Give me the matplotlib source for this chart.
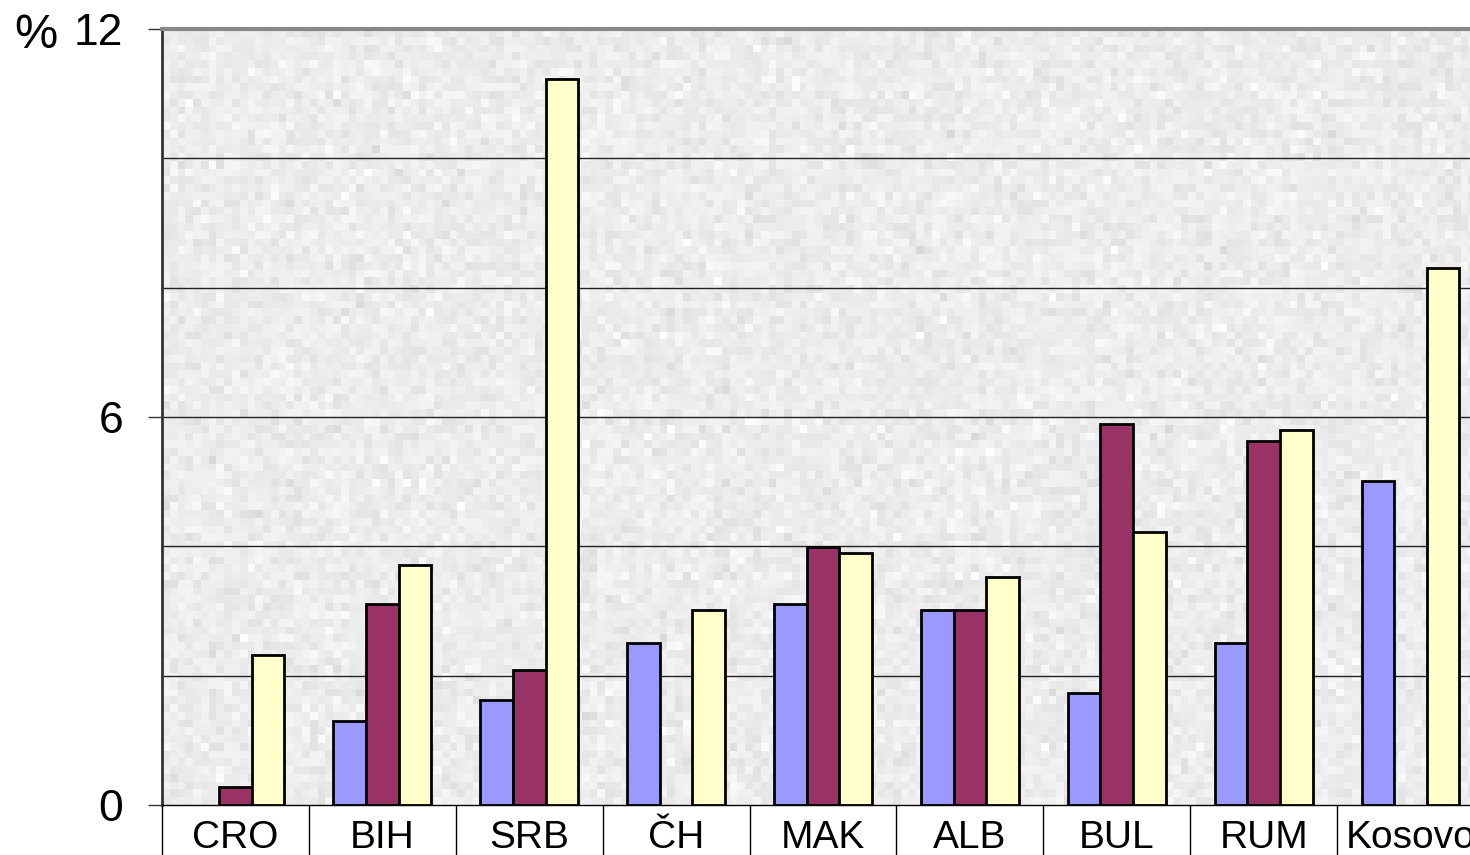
import numpy as np
import matplotlib
matplotlib.use('Agg')
import matplotlib.pyplot as plt
from matplotlib.ticker import FixedLocator, NullFormatter

plt.rcParams['font.family'] = ['Liberation Sans', 'DejaVu Sans']

countries = ['CRO', 'BIH', 'SRB', 'ČH', 'MAK', 'ALB', 'BUL', 'RUM', 'Kosovo']
blue = [np.nan, 1.30, 1.62, 2.50, 3.11, 3.02, 1.73, 2.50, 5.01]
purple = [0.28, 3.11, 2.09, np.nan, 3.99, 3.02, 5.89, 5.63, np.nan]
yellow = [2.32, 3.71, 11.23, 3.02, 3.90, 3.53, 4.22, 5.80, 8.30]

fig = plt.figure(figsize=(14.7, 8.55), dpi=100)
ax = fig.add_axes([162/1470, 1-805/855, 1322/1470, 776/855])

# granite-ish background
rng = np.random.default_rng(7)
tex = rng.normal(0.925, 0.022, (100, 170))
tex = np.clip(tex, 0.82, 1.0)
ax.imshow(tex, cmap='gray', vmin=0, vmax=1, extent=(-0.5, 8.5, 0, 12),
          aspect='auto', interpolation='nearest', zorder=0)

x = np.arange(len(countries))
w = 0.222
ax.bar(x - w, blue, w, color='#9999ff', edgecolor='black', linewidth=2, zorder=3)
ax.bar(x, purple, w, color='#993366', edgecolor='black', linewidth=2, zorder=3)
ax.bar(x + w, yellow, w, color='#ffffcc', edgecolor='black', linewidth=2, zorder=3)

ax.set_xlim(-0.5, 8.5)
ax.set_ylim(0, 12)

for g in [2, 4, 6, 8, 10]:
    ax.axhline(g, color='#222222', linewidth=1, zorder=1)

ax.set_yticks([0, 6, 12])
ax.set_yticklabels(['0', '6', '12'], fontsize=32)
ax.tick_params(axis='y', length=10, width=1, pad=18, color='#333333')

# category separators below the axis, labels in between
ax.xaxis.set_major_locator(FixedLocator(np.arange(-0.5, 9.0, 1)))
ax.xaxis.set_major_formatter(NullFormatter())
ax.xaxis.set_minor_locator(FixedLocator(x))
ax.set_xticklabels(countries, minor=True, fontsize=28)
ax.tick_params(axis='x', which='major', length=40, width=1, color='black')
ax.tick_params(axis='x', which='minor', length=0, pad=11)

ax.spines['top'].set_color('#888888')
ax.spines['top'].set_linewidth(3)
ax.spines['right'].set_visible(False)
ax.spines['left'].set_color('#333333')
ax.spines['left'].set_linewidth(2)
ax.spines['bottom'].set_color('black')
ax.spines['bottom'].set_linewidth(1)

fig.text(14/1470, 1-36/855, '%', fontsize=35, ha='left', va='center')

fig.savefig('out.png', dpi=100)
